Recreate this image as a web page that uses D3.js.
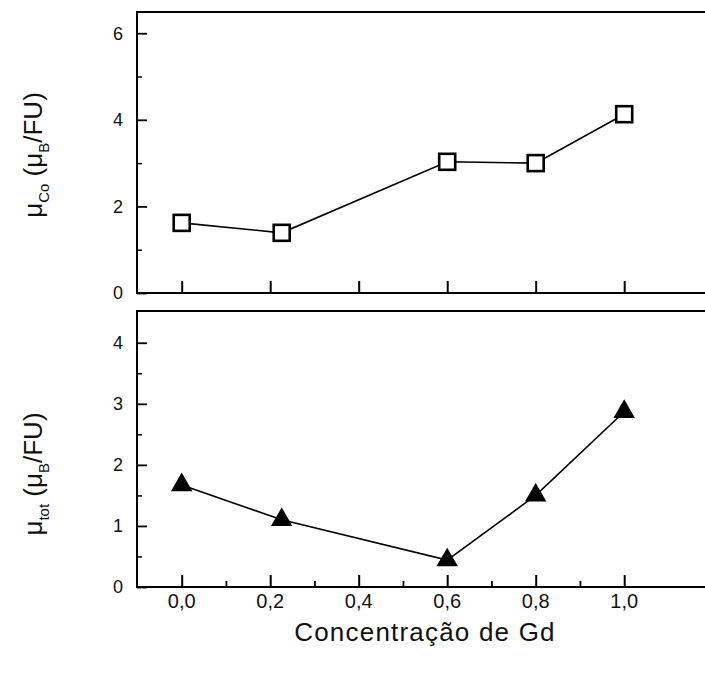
<!DOCTYPE html>
<html><head><meta charset="utf-8">
<script src="https://cdn.jsdelivr.net/npm/d3@7"></script>
<style>body{margin:0;background:#fff}svg{display:block}text{font-family:"Liberation Sans",Arial,sans-serif;fill:#111}</style>
</head><body><svg id="c" width="705" height="676"></svg>
<script>
const concentrations = [0.0, 0.226, 0.6, 0.8, 1.0];
const muCo = [1.62, 1.39, 3.03, 3.0, 4.13];
const muTot = [1.67, 1.1, 0.44, 1.5, 2.87];
const xTicks = [0.0, 0.2, 0.4, 0.6, 0.8, 1.0];
const xTickLabels = ["0,0", "0,2", "0,4", "0,6", "0,8", "1,0"];
const xMinorTicks = [0.1, 0.3, 0.5, 0.7, 0.9];
const yTicksTop = [0, 2, 4, 6];
const yMinorTop = [1, 3, 5];
const yTicksBot = [0, 1, 2, 3, 4];
const yMinorBot = [0.5, 1.5, 2.5, 3.5];

const svg = d3.select("#c");
const left = 137, right = 720;
const x = d3.scaleLinear().domain([0, 1]).range([181.7, 624.2]);

const yTop = d3.scaleLinear().domain([0, 6.49]).range([293, 12]);
const yBot = d3.scaleLinear().domain([0, 4.52]).range([587, 311]);

function panel(y, ticks, minor, showXLabels, xMinor) {
  const g = svg.append("g");
  const [y0, y1] = y.range();
  g.append("rect").attr("x", left).attr("y", y1).attr("width", right - left).attr("height", y0 - y1)
    .attr("fill", "none").attr("stroke", "#000").attr("stroke-width", 2);
  const ly = d3.axisRight(y).tickValues(ticks).tickSize(10).tickFormat("");
  const gl = g.append("g").attr("transform", `translate(${left},0)`).call(ly);
  gl.select(".domain").remove();
  gl.selectAll("line").attr("stroke-width", 1.8);
  const lym = d3.axisRight(y).tickValues(minor).tickSize(5).tickFormat("");
  const glm = g.append("g").attr("transform", `translate(${left},0)`).call(lym);
  glm.select(".domain").remove();
  glm.selectAll("line").attr("stroke-width", 1.5);
  g.selectAll(".yl").data(ticks).join("text")
    .attr("x", left - 14).attr("y", d => y(d)).attr("dy", "0.36em")
    .attr("text-anchor", "end").attr("font-size", 18).text(d => d);
  const bx = d3.axisTop(x).tickValues(xTicks).tickSize(12).tickFormat("");
  const gb = g.append("g").attr("transform", `translate(0,${y0})`).call(bx);
  gb.select(".domain").remove();
  gb.selectAll("line").attr("stroke-width", 2);
  if (xMinor) {
    const bxm = d3.axisTop(x).tickValues(xMinor).tickSize(6).tickFormat("");
    const gbm = g.append("g").attr("transform", `translate(0,${y0})`).call(bxm);
    gbm.select(".domain").remove();
    gbm.selectAll("line").attr("stroke-width", 1.8);
  }
  if (showXLabels) {
    g.selectAll(".xl").data(xTicks).join("text")
      .attr("x", d => x(d)).attr("y", y0 + 14).attr("dy", "0.36em")
      .attr("text-anchor", "middle").attr("font-size", 20)
      .text((d, i) => xTickLabels[i]);
  }
  return g;
}

panel(yTop, yTicksTop, yMinorTop, false, null);
panel(yBot, yTicksBot, yMinorBot, true, xMinorTicks);

const lineTop = d3.line().x(d => x(d[0])).y(d => yTop(d[1]));
const topData = concentrations.map((c, i) => [c, muCo[i]]);
svg.append("path").datum(topData).attr("d", lineTop).attr("fill", "none").attr("stroke", "#000").attr("stroke-width", 1.6);
svg.selectAll(".sq").data(topData).join("rect")
  .attr("x", d => x(d[0]) - 8).attr("y", d => yTop(d[1]) - 8).attr("width", 16).attr("height", 16)
  .attr("fill", "#fff").attr("stroke", "#000").attr("stroke-width", 2.6);

const botData = concentrations.map((c, i) => [c, muTot[i]]);
const lineBot = d3.line().x(d => x(d[0])).y(d => yBot(d[1]));
svg.append("path").datum(botData).attr("d", lineBot).attr("fill", "none").attr("stroke", "#000").attr("stroke-width", 1.6);
const tri = d3.symbol().type(d3.symbolTriangle).size(200);
svg.selectAll(".tr").data(botData).join("path")
  .attr("d", tri).attr("transform", d => `translate(${x(d[0])},${yBot(d[1])})`)
  .attr("fill", "#000");

function yTitle(cx, cy, sub) {
  const t = svg.append("text").attr("transform", `translate(${cx},${cy}) rotate(-90)`)
    .attr("text-anchor", "middle").attr("font-size", 26);
  t.append("tspan").text("μ");
  t.append("tspan").attr("font-size", 15).attr("dy", 7).text(sub);
  t.append("tspan").attr("dy", -7).text(" (μ");
  t.append("tspan").attr("font-size", 15).attr("dy", 7).text("B");
  t.append("tspan").attr("dy", -7).text("/FU)");
}
yTitle(42, 155, "Co");
yTitle(42, 474, "tot");

svg.append("text").attr("x", 425).attr("y", 641).attr("text-anchor", "middle")
  .attr("font-size", 26).attr("letter-spacing", 1.2).text("Concentração de Gd");
</script></body></html>
